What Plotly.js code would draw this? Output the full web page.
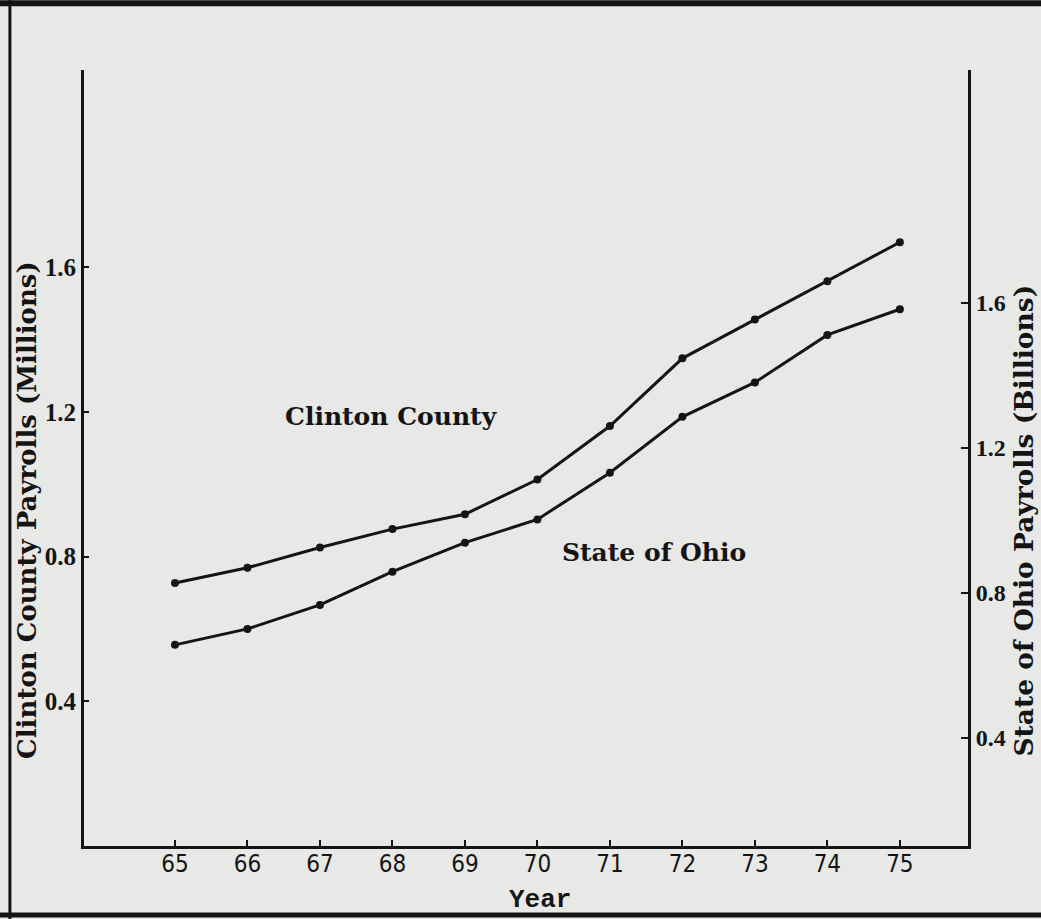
<!DOCTYPE html>
<html>
<head>
<meta charset="utf-8">
<script src="https://cdn.plot.ly/plotly-3.0.1.min.js"></script>
<style>
html,body{margin:0;padding:0;background:#e8e8e6;}
#chart{width:1041px;height:919px;}
</style>
</head>
<body>
<div id="chart"></div>
<script>
// Data
const years = [65, 66, 67, 68, 69, 70, 71, 72, 73, 74, 75];
const clintonCounty = [0.727, 0.769, 0.825, 0.876, 0.917, 1.013, 1.161, 1.348, 1.455, 1.561, 1.669]; // millions (left axis)
const stateOfOhio = [0.657, 0.701, 0.767, 0.859, 0.939, 1.003, 1.132, 1.286, 1.381, 1.512, 1.583];   // billions (right axis)
const yTicks = [0.4, 0.8, 1.2, 1.6];
const yTickText = ['0.4', '0.8', '1.2', '1.6'];

const serif = '"DejaVu Serif", "Liberation Serif", serif';
const tickSerif = '"Liberation Serif", "DejaVu Serif", serif';
const narrow = '"Liberation Sans Narrow", "DejaVu Sans Condensed", "Liberation Sans", sans-serif';
const ink = '#141414';

const traces = [
  {
    x: years, y: clintonCounty, name: 'Clinton County', yaxis: 'y',
    mode: 'lines+markers', type: 'scatter',
    line: {color: ink, width: 3},
    marker: {color: ink, size: 8}
  },
  {
    x: years, y: stateOfOhio, name: 'State of Ohio', yaxis: 'y2',
    mode: 'lines+markers', type: 'scatter',
    line: {color: ink, width: 3},
    marker: {color: ink, size: 8}
  }
];

const layout = {
  width: 1041, height: 919,
  paper_bgcolor: '#e8e8e6', plot_bgcolor: '#e8e8e6',
  margin: {l: 84, r: 73, t: 70, b: 73},
  showlegend: false,
  xaxis: {
    range: [63.745, 75.94],
    tickvals: years, ticktext: years.map(String),
    showline: true, linecolor: ink, linewidth: 3,
    ticks: 'inside', ticklen: 6, tickwidth: 2, tickcolor: ink,
    ticklabelstandoff: -6,
    showgrid: false, zeroline: false,
    tickfont: {family: narrow, size: 24, color: ink}
  },
  yaxis: {
    range: [0, 2.145],
    tickvals: yTicks, ticktext: yTickText,
    showline: true, linecolor: ink, linewidth: 3,
    ticks: 'inside', ticklen: 5, tickwidth: 2, tickcolor: ink,
    showgrid: false, zeroline: false,
    tickfont: {family: tickSerif, size: 25, color: ink, weight: 'bold'}
  },
  yaxis2: {
    overlaying: 'y', side: 'right', anchor: 'x',
    range: [0.102, 2.243],
    tickvals: yTicks, ticktext: yTickText,
    showline: true, linecolor: ink, linewidth: 3,
    ticks: 'inside', ticklen: 7, tickwidth: 2, tickcolor: ink,
    showgrid: false, zeroline: false,
    tickfont: {family: tickSerif, size: 24, color: ink, weight: 'bold'}
  },
  annotations: [
    {text: '<b>Clinton County Payrolls (Millions)</b>', xref: 'paper', yref: 'paper',
     x: -0.0645, y: 0.433, textangle: -90, showarrow: false,
     xanchor: 'center', yanchor: 'middle',
     font: {family: serif, size: 26, color: ink}},
    {text: '<b>State of Ohio Payrolls (Billions)</b>', xref: 'paper', yref: 'paper',
     x: 1.063, y: 0.419, textangle: -90, showarrow: false,
     xanchor: 'center', yanchor: 'middle',
     font: {family: serif, size: 26.5, color: ink}},
    {text: '<b>Year</b>', xref: 'paper', yref: 'paper',
     x: 0.516, y: -0.0696, showarrow: false,
     xanchor: 'center', yanchor: 'middle',
     font: {family: '"Liberation Mono", "DejaVu Sans Mono", monospace', size: 26, color: ink}},
    {text: '<b>Clinton County</b>', xref: 'paper', yref: 'paper',
     x: 0.348, y: 0.553, showarrow: false,
     xanchor: 'center', yanchor: 'middle',
     font: {family: serif, size: 25, color: ink}},
    {text: '<b>State of Ohio</b>', xref: 'paper', yref: 'paper',
     x: 0.645, y: 0.378, showarrow: false,
     xanchor: 'center', yanchor: 'middle',
     font: {family: serif, size: 25, color: ink}}
  ],
  shapes: [
    // scanned page frame
    {type: 'line', xref: 'paper', yref: 'paper', x0: -0.1, x1: 1.1, y0: 1.086, y1: 1.086,
     line: {color: ink, width: 6}},
    {type: 'line', xref: 'paper', yref: 'paper', x0: -0.0838, x1: -0.0838, y0: -0.095, y1: 1.09,
     line: {color: ink, width: 3}},
    {type: 'line', xref: 'paper', yref: 'paper', x0: -0.1, x1: 1.1, y0: -0.0889, y1: -0.0889,
     line: {color: ink, width: 5}}
  ]
};

Plotly.newPlot('chart', traces, layout, {displayModeBar: false, staticPlot: true});
</script>
</body>
</html>
